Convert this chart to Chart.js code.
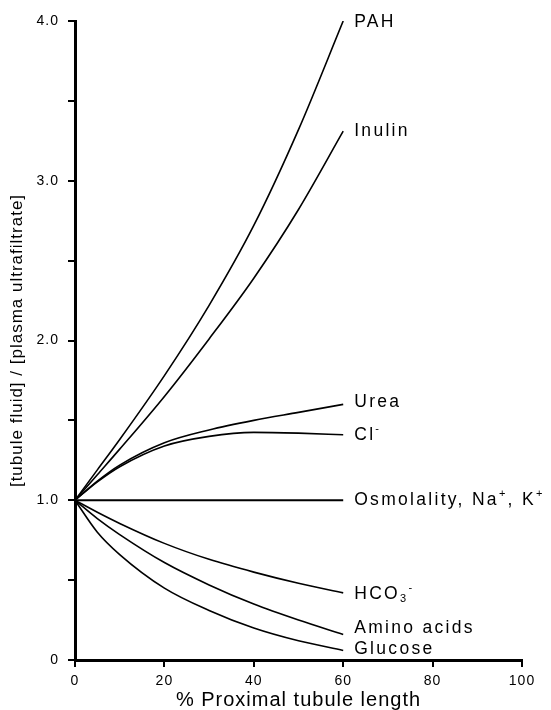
<!DOCTYPE html>
<html>
<head>
<meta charset="utf-8">
<script src="https://cdn.jsdelivr.net/npm/chart.js@4/dist/chart.umd.min.js"></script>
<style>
  html, body { margin: 0; padding: 0; background: #fff; }
  #wrap { width: 551px; height: 710px; }
</style>
</head>
<body>
<div id="wrap"><canvas id="tubuleChart" width="551" height="710"></canvas></div>
<script>
// % proximal tubule length
let xs = [0, 5, 10, 20, 30, 40, 50, 60];

// [tubule fluid] / [plasma ultrafiltrate]
let pah = [1.0, 1.19, 1.38, 1.78, 2.22, 2.72, 3.32, 4.0];
let inulin = [1.0, 1.16, 1.32, 1.65, 2.01, 2.39, 2.82, 3.31];
let urea = [1.0, 1.12, 1.22, 1.36, 1.44, 1.50, 1.55, 1.60];
let chloride = [1.0, 1.115, 1.21, 1.34, 1.40, 1.425, 1.42, 1.41];
let osmolality = [1.0, 1.0, 1.0, 1.0, 1.0, 1.0, 1.0, 1.0];
let bicarbonate = [1.0, 0.925, 0.855, 0.73, 0.63, 0.55, 0.48, 0.42];
let aminoAcids = [1.0, 0.885, 0.785, 0.61, 0.47, 0.35, 0.25, 0.16];
let glucose = [1.0, 0.80, 0.66, 0.45, 0.31, 0.20, 0.12, 0.06];

let curveNames = ["PAH", "Inulin", "Urea", "Cl⁻", "Osmolality, Na⁺, K⁺", "HCO₃⁻", "Amino acids", "Glucose"];
let series = [pah, inulin, urea, chloride, osmolality, bicarbonate, aminoAcids, glucose];

let xTickLabels = ["0", "20", "40", "60", "80", "100"];
let yTickLabels = ["0", "1.0", "2.0", "3.0", "4.0"];

// small vertical nudges for the curve names
let labelDy = [1, 0, -2, 0, 0, 1, -6, -1];

let fontFamily = '"Liberation Sans", Arial, Helvetica, sans-serif';

let datasets = series.map((vals, i) => ({
  label: curveNames[i],
  data: vals.map((v, j) => ({ x: xs[j], y: v })),
  borderColor: "#000",
  borderWidth: i === 4 ? 2.2 : 1.6,
  pointRadius: 0,
  fill: false,
  cubicInterpolationMode: "monotone",
}));

// subscripts / superscripts in the names
let scriptChars = { "⁺": ["+", "sup"], "⁻": ["-", "sup"], "₃": ["3", "sub"] };

function splitName(name) {
  let parts = [];
  for (let ch of name) {
    let s = scriptChars[ch];
    let mode = s ? s[1] : "n";
    let txt = s ? s[0] : ch;
    let last = parts[parts.length - 1];
    if (last && last.mode === mode) last.text += txt;
    else parts.push({ text: txt, mode: mode });
  }
  return parts;
}

let textSpacing = {
  id: "textSpacing",
  beforeDraw(chart) {
    chart.ctx.letterSpacing = "1px";
  },
};

let curveLabels = {
  id: "curveLabels",
  afterDatasetsDraw(chart) {
    let ctx = chart.ctx;
    ctx.save();
    ctx.fillStyle = "#000";
    ctx.textBaseline = "middle";
    ctx.textAlign = "left";
    ctx.letterSpacing = "2.3px";
    chart.data.datasets.forEach((ds, i) => {
      let meta = chart.getDatasetMeta(i);
      let last = meta.data[meta.data.length - 1];
      let x = last.x + 11;
      let y = last.y + labelDy[i];
      splitName(ds.label).forEach((p) => {
        if (p.mode === "n") {
          ctx.font = "17.5px " + fontFamily;
          ctx.fillText(p.text, x, y);
        } else {
          ctx.font = "11px " + fontFamily;
          ctx.fillText(p.text, x, p.mode === "sup" ? y - 6 : y + 5);
        }
        x += ctx.measureText(p.text).width;
      });
    });
    ctx.restore();
  },
};

let ctx = document.getElementById("tubuleChart");

let tubuleChart = new Chart(ctx, {
  type: "line",
  data: { datasets: datasets },
  options: {
    responsive: false,
    animation: false,
    layout: { padding: { top: 21, right: 29, left: 0, bottom: 0 } },
    plugins: {
      legend: { display: false },
      tooltip: { enabled: false },
    },
    scales: {
      x: {
        type: "linear",
        min: 0,
        max: 100,
        afterFit: (scale) => { scale.height = 50; },
        afterBuildTicks: (scale) => {
          scale.ticks = xTickLabels.map((t) => ({ value: Number(t) }));
        },
        ticks: {
          color: "#000",
          padding: 6,
          maxRotation: 0,
          font: { family: fontFamily, size: 14 },
          callback: (v) => xTickLabels.find((t) => Number(t) === v) || "",
        },
        grid: {
          display: true,
          drawOnChartArea: false,
          drawTicks: true,
          tickLength: 7,
          lineWidth: 2,
          color: "#000",
        },
        border: { display: true, color: "#000", width: 3 },
        title: {
          display: true,
          text: "% Proximal tubule length",
          color: "#000",
          padding: 0,
          font: { family: fontFamily, size: 20, lineHeight: 1 },
        },
      },
      y: {
        min: 0,
        max: 4,
        afterFit: (scale) => { scale.width = 75; },
        ticks: {
          stepSize: 0.5,
          color: "#000",
          padding: 9,
          font: { family: fontFamily, size: 14 },
          callback: (v) => (Number.isInteger(v) ? yTickLabels[v] : ""),
        },
        grid: {
          display: true,
          drawOnChartArea: false,
          drawTicks: true,
          tickLength: 7,
          lineWidth: 2,
          color: "#000",
        },
        border: { display: true, color: "#000", width: 3 },
        title: {
          display: true,
          text: "[tubule fluid] / [plasma ultrafiltrate]",
          color: "#000",
          padding: { top: 9, bottom: 0 },
          font: { family: fontFamily, size: 17, lineHeight: 1 },
        },
      },
    },
  },
  plugins: [textSpacing, curveLabels],
});
</script>
</body>
</html>
